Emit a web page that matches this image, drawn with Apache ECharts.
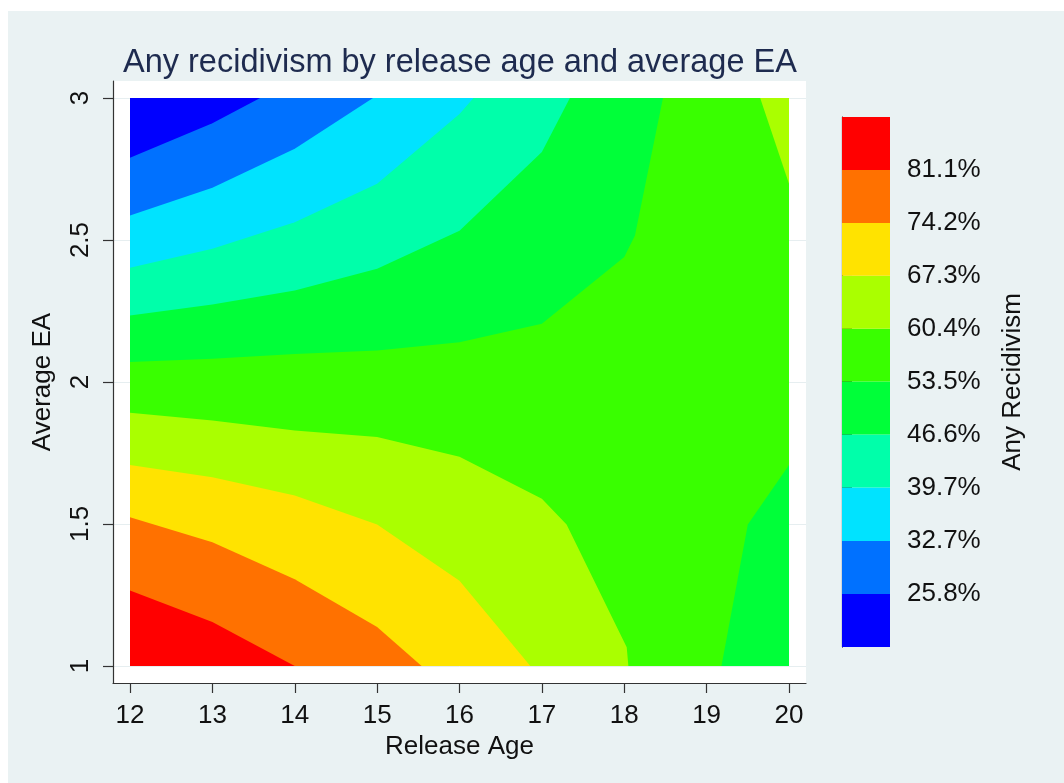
<!DOCTYPE html>
<html>
<head>
<meta charset="utf-8">
<script src="https://cdn.jsdelivr.net/npm/echarts@6/dist/echarts.min.js"></script>
<style>html,body{margin:0;padding:0;background:#fff}#c{width:1064px;height:783px}</style>
</head>
<body>
<div id="c"></div>
<script>
// ---- data ----
const ageTicks = [12, 13, 14, 15, 16, 17, 18, 19, 20];
const eaTicks = [1, 1.5, 2, 2.5, 3];
const ageRange = [12, 20];
const eaRange = [1, 3];
const levels = [25.8, 32.7, 39.7, 46.6, 53.5, 60.4, 67.3, 74.2, 81.1];
const colorbarRange = [18.89, 88.01];

// contour lines [age, EA] (level in name)
const c258 = [[12, 2.79], [13, 2.911], [13.58, 3]];
const c327 = [[12, 2.586], [13, 2.684], [14, 2.821], [14.95, 3]];
const c397 = [[12, 2.402], [13, 2.469], [14, 2.563], [15, 2.698], [16, 2.944], [16.17, 3]];
const c466 = [[12, 2.234], [13, 2.273], [14, 2.322], [15, 2.399], [16, 2.533], [17, 2.81], [17.34, 3]];
const c535Upper = [[12, 2.07], [13, 2.082], [14, 2.099], [15, 2.111], [16, 2.14], [17, 2.205], [18, 2.44], [18.13, 2.516], [18.47, 3]];
const c604Lower = [[12, 1.892], [13, 1.864], [14, 1.829], [15, 1.806], [16, 1.737], [17, 1.589], [17.3, 1.498], [18.03, 1.066], [18.05, 1]];
const c673 = [[12, 1.708], [13, 1.665], [14, 1.6], [15, 1.498], [16, 1.3], [16.86, 1]];
const c742 = [[12, 1.524], [13, 1.436], [14, 1.305], [15, 1.137], [15.54, 1]];
const c811 = [[12, 1.266], [13, 1.155], [14, 1]];
const c604Upper = [[19.65, 3], [20, 2.698]];
const c535Lower = [[19.18, 1], [19.5, 1.498], [20, 1.708]];

// ---- styles ----
const bandColors = ['#0000FF', '#0071FF', '#00E3FF', '#00FFAA', '#00FF39', '#39FF00', '#AAFF00', '#FFE300', '#FF7100', '#FF0000'];
const FONT = "'Liberation Sans', Arial, sans-serif";

// regions painted in order: band index + closing corner
const x0 = ageRange[0], x1 = ageRange[1], y0 = eaRange[0], y1 = eaRange[1];
const regions = [
  { band: 5, pts: [[x0, y0], [x1, y0], [x1, y1], [x0, y1]] },
  { band: 4, pts: c535Upper.concat([[x0, y1]]) },
  { band: 3, pts: c466.concat([[x0, y1]]) },
  { band: 2, pts: c397.concat([[x0, y1]]) },
  { band: 1, pts: c327.concat([[x0, y1]]) },
  { band: 0, pts: c258.concat([[x0, y1]]) },
  { band: 6, pts: c604Lower.concat([[x0, y0]]) },
  { band: 7, pts: c673.concat([[x0, y0]]) },
  { band: 8, pts: c742.concat([[x0, y0]]) },
  { band: 9, pts: c811.concat([[x0, y0]]) },
  { band: 6, pts: c604Upper.concat([[x1, y1]]) },
  { band: 4, pts: c535Lower.concat([[x1, y0]]) }
];

const cbEdges = [colorbarRange[0]].concat(levels, [colorbarRange[1]]);
const cbData = [];
for (let i = 0; i < cbEdges.length - 1; i++) cbData.push([0, cbEdges[i], cbEdges[i + 1], i]);

const xPad = 0.2064, yPad = 0.06;
const axisColor = '#333';

const chart = echarts.init(document.getElementById('c'), null, { renderer: 'canvas' });
chart.setOption({
  backgroundColor: '#EAF2F3',
  animation: false,
  title: {
    text: 'Any recidivism by release age and average EA',
    left: 123, top: 47, padding: 0,
    textStyle: { fontFamily: FONT, fontSize: 32.5, fontWeight: 'normal', color: '#1e2b4f' }
  },
  graphic: [
    { type: 'rect', left: 0, top: 0, shape: { width: 1064, height: 11 }, style: { fill: '#fff' }, silent: true },
    { type: 'rect', left: 0, top: 0, shape: { width: 8, height: 783 }, style: { fill: '#fff' }, silent: true }
  ],
  grid: [
    { left: 113, top: 81, width: 693, height: 602, show: true, backgroundColor: '#fff', borderWidth: 0 },
    { left: 842, top: 117, width: 48, height: 530, show: false }
  ],
  xAxis: [
    {
      type: 'value', gridIndex: 0, min: ageRange[0] - xPad, max: ageRange[1] + xPad,
      axisLine: { show: true, onZero: false, lineStyle: { color: axisColor, width: 1.2 } },
      axisTick: { show: true, customValues: ageTicks, length: 10, lineStyle: { color: axisColor, width: 1.2 } },
      axisLabel: { customValues: ageTicks, fontSize: 26, fontFamily: FONT, color: '#111', margin: 20 },
      splitLine: { show: false },
      name: 'Release Age', nameLocation: 'middle', nameGap: 47,
      nameTextStyle: { fontSize: 26, fontFamily: FONT, color: '#111' }
    },
    { type: 'value', gridIndex: 1, min: 0, max: 1, show: false }
  ],
  yAxis: [
    {
      type: 'value', gridIndex: 0, min: eaRange[0] - yPad, max: eaRange[1] + yPad,
      axisLine: { show: true, onZero: false, lineStyle: { color: axisColor, width: 1.2 } },
      axisTick: { show: true, customValues: eaTicks, length: 10, lineStyle: { color: axisColor, width: 1.2 } },
      axisLabel: { customValues: eaTicks, fontSize: 26, fontFamily: FONT, color: '#111', margin: 19, rotate: 90 },
      splitLine: { show: true, customValues: eaTicks, lineStyle: { color: '#e6eef0', width: 1 } },
      name: 'Average EA', nameLocation: 'middle', nameGap: 57, nameRotate: 90,
      nameTextStyle: { fontSize: 26, fontFamily: FONT, color: '#111' }
    },
    {
      type: 'value', gridIndex: 1, position: 'right', min: colorbarRange[0], max: colorbarRange[1],
      axisLine: { show: true, lineStyle: { color: '#000', width: 1.2 } },
      axisTick: { show: true, customValues: levels, length: 10, lineStyle: { color: axisColor, width: 1.2 } },
      axisLabel: { customValues: levels, fontSize: 26, fontFamily: FONT, color: '#111', margin: 17,
        formatter: v => (+v).toFixed(1) + '%' },
      splitLine: { show: false },
      name: 'Any Recidivism', nameLocation: 'middle', nameGap: 110, nameRotate: 90,
      nameTextStyle: { fontSize: 26, fontFamily: FONT, color: '#111' }
    }
  ],
  series: [
    {
      type: 'custom', xAxisIndex: 0, yAxisIndex: 0,
      data: regions.map((r, i) => [r.pts[0][0], r.pts[0][1], i]),
      renderItem: function (params, api) {
        const r = regions[api.value(2)];
        return {
          type: 'polygon',
          shape: { points: r.pts.map(p => api.coord(p)) },
          style: { fill: bandColors[r.band], stroke: null }
        };
      }
    },
    {
      type: 'custom', xAxisIndex: 1, yAxisIndex: 1,
      data: cbData,
      encode: { x: 0, y: 1 },
      renderItem: function (params, api) {
        const lo = api.coord([0, api.value(1)]);
        const hi = api.coord([1, api.value(2)]);
        return {
          type: 'rect',
          shape: { x: lo[0], y: hi[1], width: hi[0] - lo[0], height: lo[1] - hi[1] },
          style: { fill: bandColors[api.value(3)] }
        };
      }
    }
  ]
});
</script>
</body>
</html>
